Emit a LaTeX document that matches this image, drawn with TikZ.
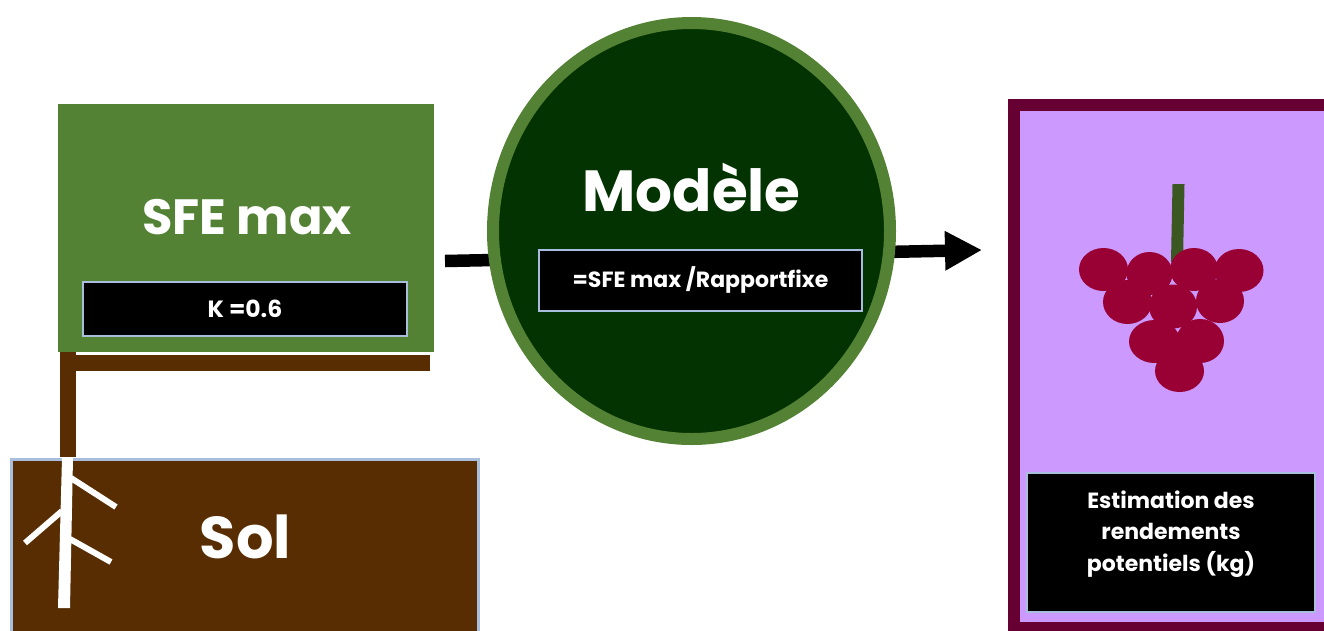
\documentclass[tikz,border=0pt]{standalone}
\usepackage{fontspec}
\setmainfont{Poppins}
\usetikzlibrary{arrows.meta,shapes.geometric}
\definecolor{leaf}{HTML}{548235}
\definecolor{deep}{HTML}{033300}
\definecolor{soil}{HTML}{582D02}
\definecolor{edgeblue}{HTML}{A9BEDD}
\definecolor{wine}{HTML}{660033}
\definecolor{lilac}{HTML}{CC99FF}
\definecolor{berry}{HTML}{990033}
\definecolor{stem}{HTML}{3B5822}
\tikzset{
  x=1pt,y=-1pt,
  blackbox/.style={draw=edgeblue,line width=2pt,fill=black,text=white,font=\bfseries,inner sep=0pt,align=center,anchor=north west},
  grape/.style={fill=berry,draw=none},
  rootline/.style={draw=white,line width=6pt},
}
\begin{document}
\begin{tikzpicture}
\useasboundingbox (0,0) rectangle (1324,630);
% arrow behind the circle
\coordinate (arrowstart) at (445,261);
\coordinate (arrowend) at (982,250);
\draw[line width=12.5pt,-{Triangle[length=37pt,width=37pt]}] (arrowstart) -- (arrowend);
% SFE box
\node[draw=none,fill=leaf,minimum width=376pt,minimum height=248pt,inner sep=0,anchor=north west] (sfe) at (58,104) {};
\node[text=white,font=\bfseries\fontsize{49.5}{55}\selectfont] (sfetext) at (247,217) {SFE max};
\node[blackbox,minimum width=324pt,minimum height=54pt,font=\bfseries\fontsize{23.5}{28}\selectfont] (k) at (82,281) {K =0.6};
% Post
\fill[soil] (60,352) rectangle (76,457);
\fill[soil] (76,355) rectangle (430,371);
% Soil
\node[draw=edgeblue,line width=2.5pt,fill=soil,minimum width=467pt,minimum height=180pt,inner sep=0,anchor=north west] (sol) at (10,458) {};
\node[text=white,font=\bfseries\fontsize{59}{65}\selectfont] (soltext) at (245.5,537) {Sol};
% Root
\fill[white] (62,458) -- (73,458) -- (70,608) -- (58,608) -- cycle;
\draw[rootline] (71,478) -- (116,507);
\draw[rootline] (62,511) -- (25,543);
\draw[rootline] (70,539) -- (111,562);
% Circle
\node[ellipse,draw=leaf,line width=12pt,fill=deep,minimum width=397pt,minimum height=416pt,inner sep=0] (model) at (691.5,231) {};
\node[text=white,font=\bfseries\fontsize{58}{64}\selectfont] (modeltext) at (691.5,188) {Modèle};
\node[blackbox,minimum width=323pt,minimum height=61pt,font=\bfseries\fontsize{22}{26}\selectfont] (formula) at (538,248.5) {=SFE max /Rapportfixe};
% Grape panel
\node[draw=wine,line width=12pt,fill=lilac,minimum width=328pt,minimum height=523pt,inner sep=0,anchor=north west] (panel) at (1008,99) {};
\fill[stem] (1172.5,184) -- (1184.5,184) -- (1183,262) -- (1171,262) -- cycle;
\foreach \cx/\cy/\rx/\ry in {
 1103.5/269.5/24.5/21.5, 1149.5/273.5/23/21.5, 1194/269.5/24/21.5, 1239/270.5/24.5/21.5,
 1127.5/302/24.5/22, 1220/301/24/22, 1173/306.5/24/22,
 1154.5/341.5/25.5/21.5, 1200/341/24/22, 1179.5/371/24.5/21}{
  \fill[grape] (\cx,\cy) ellipse [x radius=\rx, y radius=\ry];
}
\node[blackbox,minimum width=288pt,minimum height=139pt] (estim) at (1026,472) {};
\node[text=white,align=center,font=\bfseries\fontsize{22}{31.5}\selectfont] (estimtext) at (1171,534) {Estimation des\\rendements\\potentiels (kg)};
\end{tikzpicture}
\end{document}
